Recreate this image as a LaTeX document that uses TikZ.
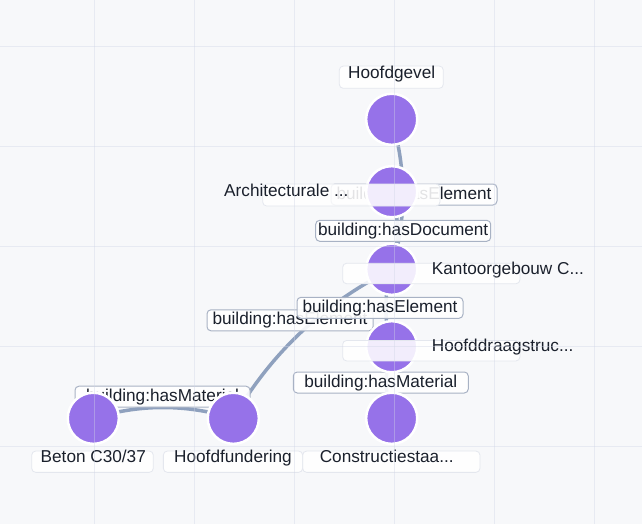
\documentclass[tikz,border=0pt]{standalone}
\usepackage{fontspec}
\setmainfont{Liberation Sans}
\usetikzlibrary{calc}
\definecolor{bgc}{HTML}{F7F8FA}
\definecolor{gridc}{HTML}{D0D5E6}
\definecolor{edgec}{HTML}{8FA1BE}
\definecolor{nodec}{HTML}{9672E9}
\definecolor{txt}{HTML}{1A202C}
\definecolor{lblborder}{HTML}{A8B2C4}
\definecolor{nbborder}{HTML}{E4E7EE}
\pgfdeclarelayer{bglayer}
\pgfdeclarelayer{edgelayer}
\pgfdeclarelayer{elablayer}
\pgfdeclarelayer{nlablayer}
\pgfdeclarelayer{toplayer}
\pgfsetlayers{bglayer,edgelayer,elablayer,main,nlablayer,toplayer}
\begin{document}
\begin{tikzpicture}[x=1pt,y=-1pt,
  vertex/.style={circle, fill=nodec, draw=white, line width=2.5pt, minimum size=51.1pt, inner sep=0pt},
  edgeline/.style={draw=edgec, line width=3.5pt},
  elabel/.style={draw=lblborder, line width=1pt, fill=white, fill opacity=0.9, text opacity=1, rounded corners=4pt, inner xsep=0pt, inner ysep=0pt, text height=15pt, text depth=6pt, font=\fontsize{17.2}{20}\selectfont, text=txt},
  nbox/.style={draw=nbborder, line width=0.8pt, fill=white, fill opacity=0.88, rounded corners=4pt, inner sep=0pt},
  ntext/.style={font=\fontsize{17.2}{20}\selectfont, text=txt, inner sep=0pt},
  gridline/.style={draw=gridc, line width=1.3pt, opacity=0.4}
]
\begin{pgfonlayer}{bglayer}
\fill[bgc] (0,0) rectangle (642,524);
\end{pgfonlayer}
\useasboundingbox (0,0) rectangle (642,524);

% vertices
\node[vertex] (gev) at (391.7,119.3) {};
\node[vertex] (arch) at (391.7,191.7) {};
\node[vertex] (kan) at (391.7,269.3) {};
\node[vertex] (hds) at (391.7,346.7) {};
\node[vertex] (cst) at (391.7,418.3) {};
\node[vertex] (fund) at (233.3,418.3) {};
\node[vertex] (bet) at (93.3,418.3) {};

% label anchor points (also control points of the curved edges)
\coordinate (q1) at (414,194.5);
\coordinate (q2) at (403.2,230.8);
\coordinate (q3) at (380,307.8);
\coordinate (q4) at (290,320.3);
\coordinate (q5) at (380.8,382.5);
\coordinate (q6) at (162.5,396.7);

\begin{pgfonlayer}{edgelayer}
\draw[edgeline] (kan.center) .. controls ($(kan.center)!0.6667!(q1)$) and ($(gev.center)!0.6667!(q1)$) .. (gev.center);
\draw[edgeline] (kan.center) .. controls ($(kan.center)!0.6667!(q2)$) and ($(arch.center)!0.6667!(q2)$) .. (arch.center);
\draw[edgeline] (kan.center) .. controls ($(kan.center)!0.6667!(q3)$) and ($(hds.center)!0.6667!(q3)$) .. (hds.center);
\draw[edgeline] (kan.center) .. controls ($(kan.center)!0.6667!(q4)$) and ($(fund.center)!0.6667!(q4)$) .. (fund.center);
\draw[edgeline] (hds.center) .. controls ($(hds.center)!0.6667!(q5)$) and ($(cst.center)!0.6667!(q5)$) .. (cst.center);
\draw[edgeline] (fund.center) .. controls ($(fund.center)!0.6667!(q6)$) and ($(bet.center)!0.6667!(q6)$) .. (bet.center);
\end{pgfonlayer}

\begin{pgfonlayer}{elablayer}
\node[elabel, minimum width=166pt] (l1) at (q1) {building:hasElement};
\node[elabel, minimum width=175pt] (l2) at (q2) {building:hasDocument};
\node[elabel, minimum width=166pt] (l4) at (q4) {building:hasElement};
\node[elabel, minimum width=166pt] (l3) at (q3) {building:hasElement};
\node[elabel, minimum width=175pt] (l5) at (q5) {building:hasMaterial};
\node[elabel, minimum width=175pt] (l6) at (q6) {building:hasMaterial};
\end{pgfonlayer}

\begin{pgfonlayer}{nlablayer}
\node[nbox, minimum width=104pt, minimum height=22.3pt] (gevbox) at (391.3,77.2) {};
\node[nbox, minimum width=177.3pt, minimum height=22pt] (archbox) at (351.3,195) {};
\node[nbox, minimum width=177.3pt, minimum height=20.5pt] (kanbox) at (431.3,273.5) {};
\node[nbox, minimum width=177.3pt, minimum height=20.5pt] (hdsbox) at (431.3,350.7) {};
\node[nbox, minimum width=121.6pt, minimum height=21.3pt] (betbox) at (92.5,461.7) {};
\node[nbox, minimum width=139.3pt, minimum height=21.3pt] (fundbox) at (233,461.7) {};
\node[nbox, minimum width=177.3pt, minimum height=21.3pt] (cstbox) at (391.3,461.7) {};

\node[ntext, anchor=base] (gevtxt) at (391.7,78.3) {Hoofdgevel};
\node[ntext, anchor=base west] (archtxt) at (224,196.7) {Architecturale ...};
\node[ntext, anchor=base west] (kantxt) at (431.7,274.3) {Kantoorgebouw C...};
\node[ntext, anchor=base west] (hdstxt) at (431.7,351.7) {Hoofddraagstruc...};
\node[ntext, anchor=base] (bettxt) at (93.3,462.3) {Beton C30/37};
\node[ntext, anchor=base] (fundtxt) at (233,462.3) {Hoofdfundering};
\node[ntext, anchor=base] (csttxt) at (386.7,462.3) {Constructiestaa...};
\end{pgfonlayer}

\begin{pgfonlayer}{toplayer}
\foreach \gx in {94.3,194.3,294.3,394.3,494.3,594.3}
  \draw[gridline] (\gx,0) -- (\gx,524);
\foreach \gy in {46.7,146.7,246.7,346.7,446.7}
  \draw[gridline] (0,\gy) -- (642,\gy);
\end{pgfonlayer}
\end{tikzpicture}
\end{document}
